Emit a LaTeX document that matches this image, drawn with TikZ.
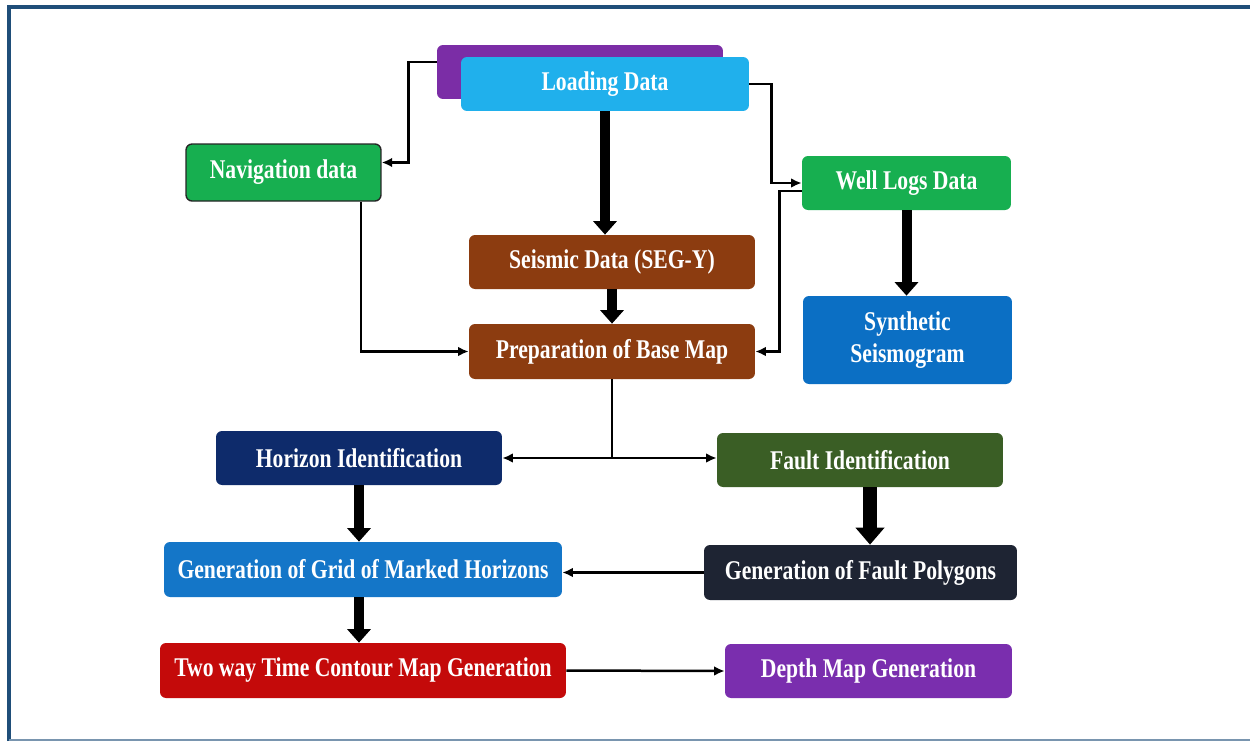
\documentclass[tikz,border=0pt]{standalone}
\usepackage{fontspec}
\setmainfont{Liberation Serif}[FakeStretch=0.8]
\usetikzlibrary{arrows.meta}
\definecolor{framebl}{HTML}{1F4E79}
\definecolor{loadbl}{HTML}{20B0EC}
\definecolor{shadowpu}{HTML}{7B2DA6}
\definecolor{navgr}{HTML}{17AF50}
\definecolor{seisbr}{HTML}{8C3C10}
\definecolor{synthbl}{HTML}{0B6FC4}
\definecolor{horna}{HTML}{0E2B6B}
\definecolor{faultgr}{HTML}{3A5E25}
\definecolor{gridbl}{HTML}{1476C8}
\definecolor{polyda}{HTML}{1E2433}
\definecolor{twtre}{HTML}{C40A0A}
\definecolor{depthpu}{HTML}{7A2EAE}
\tikzset{
  box/.style={rounded corners=0.12cm, text=white, inner sep=2pt, align=center,
    minimum height=1.08cm, font=\bfseries\fontsize{15.4}{18.2}\selectfont},
  fatarrow/.style={line width=0.2cm, -{Triangle[width=0.46cm,length=0.27cm]}},
  thinarrow/.style={line width=0.05cm, -{Latex[length=6pt,width=5.5pt]}}
}
\begin{document}
\begin{tikzpicture}[x=0.02cm,y=-0.02cm]
        \useasboundingbox[fill=white] (0,0) rectangle (1250,741);
        \draw[framebl, line width=0.09cm] (9,741) -- (9,7) -- (1250,7);
        \draw[framebl!60, line width=0.04cm] (9,740) -- (1250,740);
        \node[box, fill=shadowpu, minimum width=5.72cm] (ldshadow) at (580,72) {};
        \node[box, fill=loadbl, minimum width=5.76cm] (load) at (605,84) {Loading Data};
        \node[box, fill=navgr, draw=black!85, line width=0.8pt, minimum width=3.9cm, minimum height=1.14cm] (nav) at (283.5,172.5) {Navigation data};
        \node[box, fill=navgr, minimum width=4.18cm] (well) at (906.5,183) {Well Logs Data};
        \node[box, fill=seisbr, minimum width=5.72cm] (seis) at (612,262) {Seismic Data (SEG-Y)};
        \node[box, fill=seisbr, minimum width=5.72cm, minimum height=1.1cm] (base) at (612,351.5) {Preparation of Base Map};
        \node[box, fill=synthbl, minimum width=4.18cm, minimum height=1.76cm] (synth) at (907.5,340) {Synthetic\\Seismogram};
        \node[box, fill=horna, minimum width=5.72cm] (hor) at (359,458) {Horizon Identification};
        \node[box, fill=faultgr, minimum width=5.72cm] (fault) at (860,460) {Fault Identification};
        \node[box, fill=gridbl, minimum width=7.96cm, minimum height=1.1cm] (grid) at (363,569.5) {Generation of Grid of Marked Horizons};
        \node[box, fill=polyda, minimum width=6.26cm, minimum height=1.1cm] (poly) at (860.5,572.5) {Generation of Fault Polygons};
        \node[box, fill=twtre, minimum width=8.12cm, minimum height=1.1cm] (twt) at (363,670.5) {Two way Time Contour Map Generation};
        \node[box, fill=depthpu, minimum width=5.74cm] (depth) at (868.5,671) {Depth Map Generation};
        \foreach \a/\b/\c in {load/seis/load,seis/base/seis,well/synth/well,hor/grid/hor,grid/twt/hor} {
            \draw[fatarrow] (\c.south |- \a.south) -- (\c.south |- \b.north);
        }
        \draw[line width=0.28cm, -{Triangle[width=0.56cm,length=0.34cm]}] ([xshift=0.2cm]fault.south) -- ([xshift=0.2cm]fault.south |- poly.north);
        \draw[thinarrow] ([yshift=0.2cm]ldshadow.west) -- ++(-28,0) |- ([yshift=0.2cm]nav.east);
        \draw[thinarrow] (load.east) -- ++(22,0) |- (well.west);
        \draw[thinarrow] ([yshift=-0.16cm]well.west) -- ++(-22,0) |- (base.east);
        \draw[thinarrow] ([xshift=1.55cm]nav.south) |- (base.west);
        \coordinate (split) at (base.south |- hor.east);
        \draw[line width=0.05cm] (base.south) -- (split);
        \draw[thinarrow] (split) -- (hor.east);
        \draw[thinarrow] (split) -- (split -| fault.west);
        \draw[thinarrow] (poly.west) -- (poly.west -| grid.east);
        \draw[thinarrow] (twt.east) -- (depth.west);
\end{tikzpicture}
\end{document}
